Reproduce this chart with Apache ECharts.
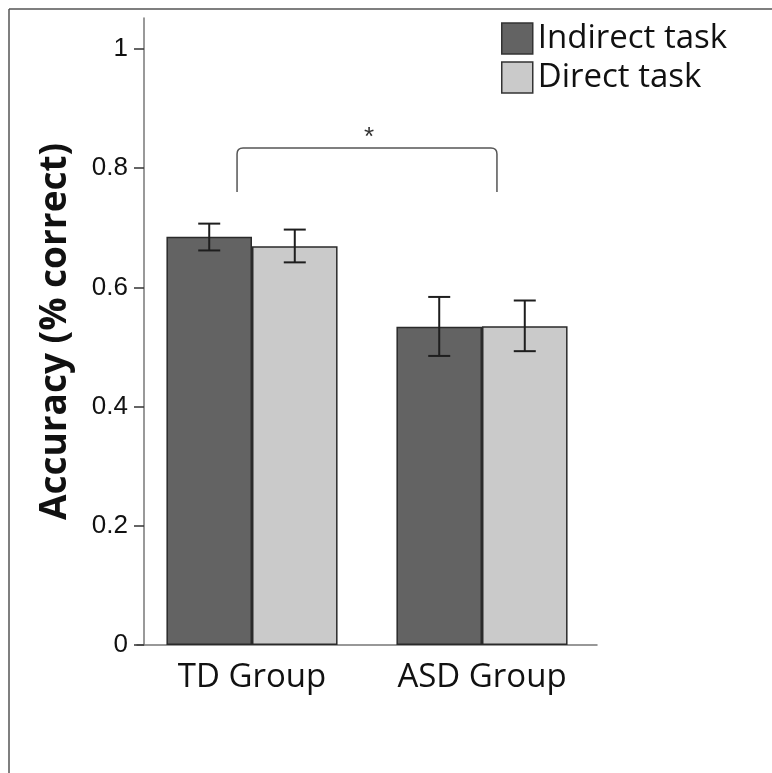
<!DOCTYPE html>
<html>
<head>
<meta charset="utf-8">
<script src="https://cdn.jsdelivr.net/npm/echarts@6/dist/echarts.min.js"></script>
<style>
html,body{margin:0;padding:0;background:#fff;}
#chart{width:772px;height:773px;}
</style>
</head>
<body>
<div id="chart"></div>
<script>
// ---- data ----
const categories = ['TD Group', 'ASD Group'];
const seriesNames = ['Indirect task', 'Direct task'];
const indirectMeans = [0.685, 0.534];
const directMeans = [0.669, 0.535];
const indirectErrLow = [0.662, 0.485];
const indirectErrHigh = [0.707, 0.584];
const directErrLow = [0.642, 0.493];
const directErrHigh = [0.697, 0.578];
const yTicks = [0, 0.2, 0.4, 0.6, 0.8, 1];
const sigPair = [0, 1];          // category indices joined by the bracket
const sigTop = 0.834;            // bracket horizontal level
const sigBottom = 0.76;          // bracket leg ends
const sigMark = '*';

// ---- styling ----
const BAR_CAT_GAP = 0.256;
const darkFill = '#636363';
const lightFill = '#cacaca';
const edge = '#2a2a2a';
const uiFont = '"Open Sans", sans-serif';
const numFont = '"Liberation Sans", Arial, sans-serif';

const chart = echarts.init(document.getElementById('chart'), null, {renderer: 'canvas'});

function errSeries(lows, highs, side) {
  return {
    type: 'custom',
    silent: true,
    z: 10,
    data: lows.map((lo, i) => [i, lo, highs[i]]),
    encode: {x: 0, y: [1, 2]},
    renderItem: function (params, api) {
      const band = api.size([1, 0])[0];
      const barW = band * (1 - BAR_CAT_GAP) / 2;
      const lo = api.coord([api.value(0), api.value(1)]);
      const hi = api.coord([api.value(0), api.value(2)]);
      const x = lo[0] + side * barW / 2;
      const cap = 11;
      const st = {stroke: '#1e1e1e', lineWidth: 2};
      return {
        type: 'group',
        children: [
          {type: 'line', shape: {x1: x, y1: lo[1], x2: x, y2: hi[1]}, style: st},
          {type: 'line', shape: {x1: x - cap, y1: lo[1], x2: x + cap, y2: lo[1]}, style: st},
          {type: 'line', shape: {x1: x - cap, y1: hi[1], x2: x + cap, y2: hi[1]}, style: st}
        ]
      };
    }
  };
}

const option = {
  backgroundColor: '#fff',
  animation: false,
  grid: {left: 137, top: 18, width: 460, height: 627, containLabel: false},
  legend: {
    orient: 'vertical',
    left: 501,
    top: 22,
    padding: 0,
    itemGap: 6,
    itemWidth: 31,
    itemHeight: 31,
    icon: 'rect',
    data: seriesNames,
    textStyle: {fontFamily: uiFont, fontSize: 33, color: '#111'},
    itemStyle: {borderColor: '#333', borderWidth: 1.5}
  },
  xAxis: {
    type: 'category',
    data: categories,
    axisLine: {lineStyle: {color: '#777', width: 1.5}},
    axisTick: {alignWithLabel: true, length: 12, lineStyle: {color: '#333', width: 1.5}},
    axisLabel: {fontFamily: uiFont, fontSize: 33, color: '#111', margin: 16},
    splitLine: {show: false}
  },
  yAxis: {
    type: 'value',
    min: 0,
    max: 1.052,
    offset: -7,
    name: 'Accuracy (% correct)',
    nameLocation: 'middle',
    nameGap: 70,
    nameTextStyle: {fontFamily: uiFont, fontWeight: 'bold', fontSize: 37, color: '#111'},
    axisLine: {show: true, lineStyle: {color: '#777', width: 1.5}},
    axisTick: {show: true, length: 10, customValues: yTicks, lineStyle: {color: '#333', width: 1.5}},
    axisLabel: {customValues: yTicks, fontFamily: numFont, fontSize: 26, color: '#111', margin: 16,
      formatter: v => String(v)},
    splitLine: {show: false}
  },
  series: [
    {
      name: seriesNames[0], type: 'bar', data: indirectMeans,
      barGap: '0%', barCategoryGap: (BAR_CAT_GAP * 100) + '%',
      itemStyle: {color: darkFill, borderColor: edge, borderWidth: 1.5}
    },
    {
      name: seriesNames[1], type: 'bar', data: directMeans,
      barGap: '0%', barCategoryGap: (BAR_CAT_GAP * 100) + '%',
      itemStyle: {color: lightFill, borderColor: edge, borderWidth: 1.5}
    },
    errSeries(indirectErrLow, indirectErrHigh, -1),
    errSeries(directErrLow, directErrHigh, 1),
    {
      type: 'custom',
      silent: true,
      z: 11,
      data: [[sigPair[0], sigPair[1], sigTop, sigBottom]],
      encode: {x: [0, 1], y: [2, 3]},
      renderItem: function (params, api) {
        const band = api.size([1, 0])[0];
        const inset = band * 0.065;
        const a = api.coord([api.value(0), api.value(2)]);
        const b = api.coord([api.value(1), api.value(3)]);
        const x1 = a[0] - inset, x2 = b[0] + inset;
        const yt = a[1], yb = b[1];
        const r = 6;
        const d = 'M' + x1 + ' ' + yb + ' L' + x1 + ' ' + (yt + r) +
          ' Q' + x1 + ' ' + yt + ' ' + (x1 + r) + ' ' + yt +
          ' L' + (x2 - r) + ' ' + yt +
          ' Q' + x2 + ' ' + yt + ' ' + x2 + ' ' + (yt + r) +
          ' L' + x2 + ' ' + yb;
        return {
          type: 'group',
          children: [
            {type: 'path', shape: {pathData: d}, style: {stroke: '#555', lineWidth: 1.5, fill: null}},
            {type: 'text', x: (x1 + x2) / 2 + 2, y: yt - 10,
              style: {text: sigMark, fontFamily: numFont, fontSize: 26, fill: '#333',
                align: 'center', verticalAlign: 'middle'}}
          ]
        };
      }
    }
  ],
  graphic: [
    {type: 'line', shape: {x1: 9, y1: 9, x2: 772, y2: 9}, style: {stroke: '#555', lineWidth: 1.5}},
    {type: 'line', shape: {x1: 9, y1: 9, x2: 9, y2: 773}, style: {stroke: '#555', lineWidth: 1.5}}
  ]
};
chart.setOption(option);
</script>
</body>
</html>
